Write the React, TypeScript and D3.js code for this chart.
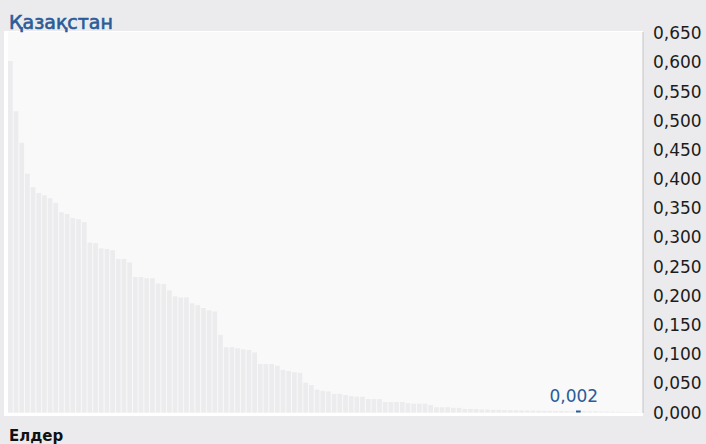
import React from "react";
import * as d3 from "d3";

const W = 706;
const H = 444;

const title = "Қазақстан";
const xAxisTitle = "Елдер";
const highlightIndex = 100; // Kazakhstan
const highlightLabel = "0,002";

const values: number[] = [
  0.602, 0.516, 0.462, 0.409, 0.386, 0.376, 0.372, 0.367, 0.359, 0.343,
  0.34, 0.333, 0.331, 0.326, 0.291, 0.29, 0.281, 0.28, 0.278, 0.263,
  0.263, 0.257, 0.232, 0.232, 0.23, 0.23, 0.221, 0.22, 0.209, 0.199,
  0.197, 0.197, 0.187, 0.184, 0.179, 0.175, 0.173, 0.133, 0.112, 0.112,
  0.11, 0.108, 0.107, 0.103, 0.083, 0.083, 0.083, 0.08, 0.073, 0.071,
  0.069, 0.068, 0.051, 0.047, 0.039, 0.037, 0.036, 0.032, 0.032, 0.03,
  0.028, 0.027, 0.027, 0.023, 0.023, 0.023, 0.018, 0.018, 0.018, 0.018,
  0.016, 0.015, 0.015, 0.015, 0.013, 0.009, 0.009, 0.009, 0.008, 0.008,
  0.006, 0.006, 0.006, 0.005, 0.005, 0.0045, 0.0045, 0.004, 0.004, 0.0038,
  0.0035, 0.0033, 0.003, 0.003, 0.0028, 0.0027, 0.0026, 0.0025, 0.0023, 0.0021,
  0.002, 0.002, 0.0019, 0.0018, 0.0017, 0.0015, 0.0014, 0.0012, 0.001, 0.0008,
  0.0006,
];

const yTicks: number[] = [0, 0.05, 0.1, 0.15, 0.2, 0.25, 0.3, 0.35, 0.4, 0.45, 0.5, 0.55, 0.6, 0.65];
const fmt = (v: number) => v.toFixed(3).replace(".", ",");

export default function App() {
  React.useEffect(() => {
    document.body.style.margin = "0";
  }, []);

  const x = d3
    .scaleBand<number>()
    .domain(values.map((_, i) => i))
    .range([8, 637.5])
    .paddingInner(0.17)
    .paddingOuter(0);
  const y = d3.scaleLinear().domain([0, 0.65]).range([412.5, 33]);

  const font = "'DejaVu Sans', sans-serif";
  const blue = "#2b5c98";

  return (
    <svg width={W} height={H} style={{ display: "block", background: "#ebebed" }}>
      <rect x={0} y={0} width={W} height={H} fill="#ebebed" />
      <rect x={4} y={31} width={639} height={385} fill="#ffffff" />
      <rect x={8} y={32} width={635} height={381} fill="#f9f9f9" />
      {values.map((v, i) => {
        const top = y(v);
        let h = y(0) - top;
        const isHi = i === highlightIndex;
        if (isHi) h = Math.max(h, 2);
        return (
          <rect
            key={i}
            x={x(i)}
            y={y(0) - h}
            width={x.bandwidth()}
            height={h}
            fill={isHi ? blue : "#ececee"}
          />
        );
      })}
      <line x1={643} x2={643} y1={32} y2={413} stroke="#c4c4c6" strokeWidth={1} />
      {yTicks.map((t) => (
        <text
          key={t}
          x={653}
          y={y(t)}
          dy="0.36em"
          fontFamily={font}
          fontSize={17}
          fill="#1c1c1c"
        >
          {fmt(t)}
        </text>
      ))}
      <text
        x={(x(highlightIndex) as number) + x.bandwidth() / 2 - 4.5}
        y={402}
        textAnchor="middle"
        fontFamily={font}
        fontSize={17}
        fill={blue}
      >
        {highlightLabel}
      </text>
      <text x={9} y={29} fontFamily={font} fontSize={19} fill={blue} stroke={blue} strokeWidth={0.65}>
        {title}
      </text>
      <text x={9} y={441} fontFamily={font} fontSize={15} fontWeight={700} fill="#111">
        {xAxisTitle}
      </text>
    </svg>
  );
}
